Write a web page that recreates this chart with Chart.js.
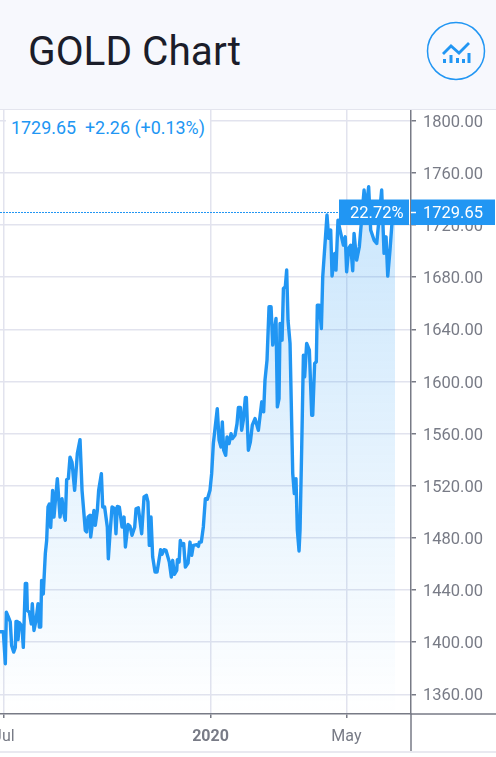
<!DOCTYPE html>
<html>
<head>
<meta charset="utf-8">
<script src="https://cdn.jsdelivr.net/npm/chart.js@4"></script>
<style>
html,body{margin:0;padding:0;background:#fff;width:496px;height:757px;overflow:hidden;font-family:Roboto,sans-serif}
#head{position:absolute;left:0;top:0;width:496px;height:109px;background:#f7f8fd;border-bottom:1px solid #e4e5ee}
#title{position:absolute;left:28px;top:29px;font-size:40.6px;line-height:44px;color:#1b1d2a;font-weight:400}
#icon{position:absolute;left:426px;top:21px}
#wrap{position:absolute;left:0;top:110px;width:496px;height:642px}
#quote{position:absolute;left:6px;top:112px;width:204px;height:32px;background:#fff;color:#2196f3;font-size:17.9px;line-height:32px;padding-left:5px;box-sizing:border-box;white-space:pre}
#foot{position:absolute;left:0;top:751px;width:496px;height:2px;background:#e9e9f0}
</style>
</head>
<body>
<div id="head">
<div id="title">GOLD Chart</div>
<svg id="icon" width="60" height="60" viewBox="0 0 60 60">
<circle cx="30" cy="30" r="28.5" fill="none" stroke="#2196f3" stroke-width="1.5"/>
<polyline points="17,33 25,25 33,32 43,22" fill="none" stroke="#2196f3" stroke-width="2.8"/>
<g fill="#2196f3"><rect x="17" y="38" width="3" height="4"/><rect x="23.5" y="34" width="3" height="8"/><rect x="30" y="37" width="3" height="5"/><rect x="36" y="38" width="3" height="4"/><rect x="41.5" y="32" width="3" height="10"/></g>
</svg>
</div>
<div id="wrap"><canvas id="c"></canvas></div>
<div id="foot"></div>
<div id="quote">1729.65  +2.26 (+0.13%)</div>
<script>
// days relative to 1 Jan 2020
const dayOffsets = [-187.5,-184.5,-182.7,-181.8,-180.3,-178.3,-177.1,-175.3,-173.8,-173.2,-172,-171.4,-170.2,-167.9,-166.7,-164.9,-163.7,-163.1,-161.3,-159.6,-158.7,-157.2,-155.4,-153.6,-152.4,-151.2,-150.4,-148.9,-147.1,-145.9,-144.7,-143.5,-142.3,-140.6,-139.4,-136.4,-134,-132.2,-131.1,-129.3,-128.1,-126.6,-125.1,-123.3,-121,-118.6,-116.2,-114.4,-111.5,-110.3,-109.1,-107.3,-106.7,-103.8,-102.6,-100.8,-99.6,-97.2,-96,-94.3,-91.9,-91,
-89.5,-87.7,-85.3,-84.2,-83,-81.2,-78.8,-77,-75.8,-73.5,-71.7,-69.9,-67.5,-66.3,-64.3,-61.3,-59.2,-57.1,-55.7,-54.5,-53,-51.5,-49.4,-47.6,-44.4,-43.2,-41.4,-39.6,-36.7,-34.9,-33.7,-32.2,-30.1,-29.5,-28,-26.9,-25.7,-23.9,-22.4,-20,-18.3,-16.8,-15.3,-12.3,-10.8,-10,-8.2,-6.4,-4.6,-2.8,-0.5,1,2.5,6,
7.6,9.3,10.5,11.7,13.5,14.7,16.5,18.3,19.4,21.8,23.6,24.8,26.6,27.7,29.2,31,31.9,33.7,35.5,37.2,39.6,42.6,45.6,47.3,48.5,50.3,52.1,53.9,55.4,58.3,59.5,61,61.9,63.7,64.9,66.6,67.8,69,70.8,73.2,74.6,76.1,77.3,78.8,79.7,81.2,82.7,83.8,85.6,88,90.1,91,92.7,94.2,95.1,96.9,98.7,99.9,103.7,105.2,107,108.2,110.6,111.7,113.5,115.3,118.3,120,121.2,123,124.8,126.6,127.8,130.1,132.5,136.7,138.5,140.8,142.6,145.6,148,152.4,154.5,156.3,157.8,159.8,162.2,164.3];
const closes = [1408,1408,1383.5,1423,1420,1415.5,1397.5,1392.4,1396,1416,1416,1402,1415,1412,1396,1445,1445,1424.4,1423,1414,1429.5,1409,1416.7,1429.5,1411.6,1411.6,1447.4,1437,1468,1478,1503.7,1506,1488,1516.5,1496,1525.5,1496,1510,1501,1493.5,1524.7,1525.5,1542,1538,1516.5,1544.7,1555.4,1516.5,1485.8,1484.5,1496,1497.3,1480.7,1501,1489.7,1501,1516.5,1529.3,1503.7,1503.7,1488.4,1464,
1483.2,1503.7,1502.4,1483.2,1504.2,1503.7,1488.4,1496,1473,1490.4,1488.9,1482,1488.4,1502.4,1503.2,1483.2,1511.4,1512.7,1507.6,1474.3,1496,1465.3,1453.8,1453.8,1471,1467.4,1471,1470.4,1461.5,1450,1462.8,1452,1455.1,1463.3,1461.5,1478.1,1474.3,1475.6,1457.6,1460.7,1476.8,1466.6,1474.3,1474.8,1473.5,1476.8,1476.8,1488.4,1510.1,1509.6,1516.5,1529.3,1552.3,1579.2,
1555,1549.8,1569,1547.3,1543.4,1557.5,1552.4,1560,1556.2,1558.8,1567.7,1580,1580,1562.6,1570.3,1587.7,1587.7,1547.3,1553.7,1566.5,1571.6,1562.6,1584.4,1576.7,1601,1616.4,1657.3,1657.3,1627.9,1648.4,1580.5,1586.9,1644.5,1631.7,1671.4,1672.7,1685.5,1647,1629.2,1529.4,1514,1525.5,1485.9,1470,1485.9,1549.8,1620.2,1603.6,1629.2,1624,1574.1,1574.1,1613.8,1615.1,1658.6,1658.6,1640.7,1680.3,1727.7,1709.8,1716.2,1680.9,1698.3,1685.5,1723.8,1716.2,1704.6,1711,1684.2,1702.1,1704.6,1685,1713.6,1693.1,1703.4,1746.9,1731.5,1749.4,1716.2,1708.5,1705.9,1746.9,1698.3,1711,1680.9,1700.8,1729,1729.65];
const yTicks = [1360,1400,1440,1480,1520,1560,1600,1640,1680,1720,1760,1800];
const xTickDays = [-184,0,121];
const xTickLabels = ['Jul','2020','May'];
const lastPrice = '1729.65';
const lastPercent = '22.72%';

const BLUE = '#2196f3', AXIS = '#787b86', GRID = '#e2e3ee';

const overlay = {
  id:'overlay',
  afterDraw(chart){
    const {ctx,chartArea:a,scales:{y}} = chart;
    const W = chart.width, H = chart.height;
    const p = y.getPixelForValue(parseFloat(lastPrice));
    ctx.save();
    ctx.strokeStyle = AXIS; ctx.lineWidth = 1.5;
    ctx.beginPath(); ctx.moveTo(a.right,a.bottom); ctx.lineTo(W,a.bottom);
    ctx.moveTo(a.right,a.bottom); ctx.lineTo(a.right,H); ctx.stroke();
    ctx.strokeStyle = BLUE; ctx.lineWidth = 1; ctx.setLineDash([2,1]);
    ctx.beginPath(); ctx.moveTo(0,p); ctx.lineTo(339,p); ctx.stroke(); ctx.setLineDash([]);
    const top = p-13, h = 25.5;
    ctx.fillStyle = BLUE;
    ctx.fillRect(339,top,70,h);
    ctx.fillRect(411,top,84,h);
    ctx.strokeStyle = '#fff'; ctx.lineWidth = 1.5;
    ctx.beginPath(); ctx.moveTo(411,p); ctx.lineTo(416,p); ctx.stroke();
    ctx.fillStyle = '#fff'; ctx.font = '16.5px Roboto'; ctx.textBaseline='middle'; ctx.textAlign='left';
    ctx.fillText(lastPercent,350,p+1.5);
    ctx.fillText(lastPrice,423,p+1.5);
    ctx.restore();
  }
};

const noPad = s => { s.paddingLeft = s.paddingRight = s.paddingTop = s.paddingBottom = 0; };
// nudge the y tick labels down a little, as in the reference
const nudgeLabels = s => {
  const orig = s._computeLabelItems;
  s._computeLabelItems = function(area){
    const items = orig.call(this, area);
    items.forEach(it => { it.options.translation = [it.options.translation[0], it.options.translation[1] + 2]; });
    return items;
  };
};

new Chart(document.getElementById('c'),{
  type:'line',
  data:{datasets:[{
    data:dayOffsets.map((d,i)=>({x:d,y:closes[i]})),
    borderColor:BLUE,borderWidth:3.4,pointRadius:0,tension:0,borderJoinStyle:'round',
    fill:'start',
    backgroundColor(c){
      const a=c.chart.chartArea; if(!a) return 'rgba(33,150,243,.1)';
      const g=c.chart.ctx.createLinearGradient(0,a.top,0,a.bottom);
      g.addColorStop(0,'rgba(33,150,243,.28)');g.addColorStop(1,'rgba(33,150,243,0)');
      return g;
    }
  }]},
  options:{
    responsive:true,maintainAspectRatio:false,animation:false,
    layout:{padding:0,autoPadding:false},
    plugins:{legend:{display:false},tooltip:{enabled:false}},
    scales:{
      x:{type:'linear',min:-187.45,max:178.5,
        afterBuildTicks(s){s.ticks=xTickDays.map(v=>({value:v}));},
        afterFit(s){s.height=38;noPad(s);},
        border:{color:AXIS,width:1.5},
        grid:{color:GRID,lineWidth:1.5,tickColor:AXIS,tickLength:4},
        ticks:{autoSkip:false,maxRotation:0,padding:9,color:AXIS,
          font:c=>({family:'Roboto',size:16,weight:(c.tick&&c.tick.value===0)?'bold':'normal'}),
          callback:v=>xTickLabels[xTickDays.indexOf(v)]}
      },
      y:{type:'linear',position:'right',min:1344.9,max:1808.3,
        afterBuildTicks(s){s.ticks=yTicks.map(v=>({value:v}));},
        beforeUpdate(s){ if(!s._nudged){ nudgeLabels(s); s._nudged=true; } },
        afterFit(s){s.width=85;noPad(s);},
        border:{color:AXIS,width:1.5},
        grid:{color:GRID,lineWidth:1.5,tickColor:AXIS,tickLength:5},
        ticks:{padding:7,color:AXIS,font:{family:'Roboto',size:16.5},align:'center',callback:v=>v.toFixed(2)}
      }
    }
  },
  plugins:[overlay]
});
</script>
</body>
</html>
